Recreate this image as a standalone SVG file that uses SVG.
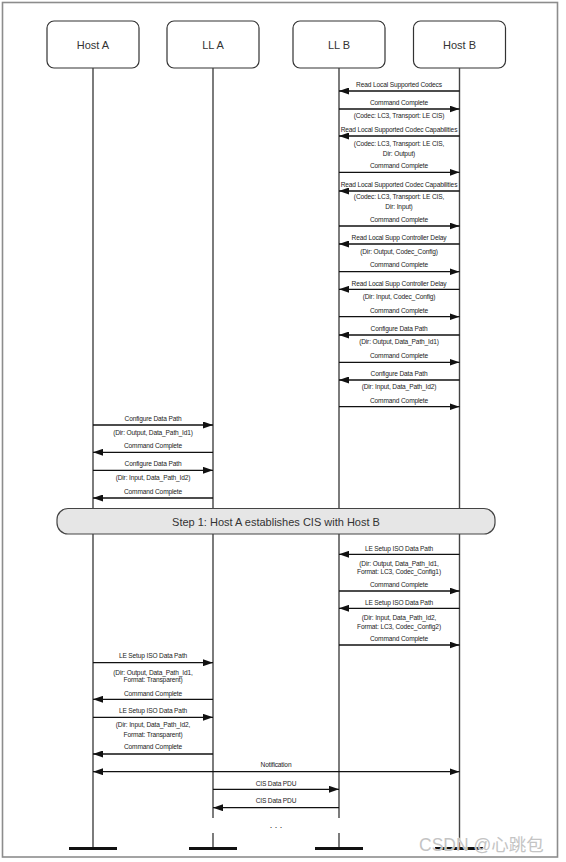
<svg xmlns="http://www.w3.org/2000/svg" width="566" height="862" viewBox="0 0 566 862">
<style>
.bg{fill:#ffffff}
.frame{fill:none;stroke:#8c8c8c;stroke-width:1.6}
.box{fill:#ffffff;stroke:#333333;stroke-width:1.2}
.nl{font-family:"Liberation Sans",Arial,sans-serif;font-size:11px;fill:#333333;text-anchor:middle}
.life{stroke:#444444;stroke-width:1.4;fill:none}
.bar{stroke:#111111;stroke-width:3;fill:none}
.msg{stroke:#111111;stroke-width:1.3;fill:none;marker-end:url(#ah)}
.dbl{stroke:#111111;stroke-width:1.3;fill:none;marker-end:url(#ah);marker-start:url(#ah)}
.t{font-family:"Liberation Sans",Arial,sans-serif;font-size:6.6px;letter-spacing:-0.15px;fill:#222222;text-anchor:middle}
.dots{font-family:"Liberation Sans",Arial,sans-serif;font-size:9px;fill:#222222;text-anchor:middle}
.step{fill:#e6e6e6;stroke:#444444;stroke-width:1.2}
.st{font-family:"Liberation Sans",Arial,sans-serif;font-size:11px;fill:#333333;text-anchor:middle}
.wm{font-family:"Liberation Sans","Noto Sans CJK SC",sans-serif;font-size:17.5px;fill:#c4c4c4;stroke:#ffffff;stroke-width:0.6;paint-order:stroke}
</style>
<defs>
<marker id="ah" markerUnits="userSpaceOnUse" markerWidth="10" markerHeight="7" refX="10" refY="3.5" orient="auto-start-reverse">
<path d="M0,0 L10,3.5 L0,7 z" fill="#111111"/>
</marker>
</defs>
<rect class="bg" x="0" y="0" width="566" height="862"/>
<rect class="frame" x="2.5" y="2.5" width="555" height="854.5"/>

<g id="host-a">
<rect class="box" x="47" y="21" width="92" height="47" rx="7"/>
<text class="nl" x="93" y="49">Host A</text>
<line class="life" x1="93" y1="68" x2="93" y2="848"/>
<line class="bar" x1="69" y1="848.5" x2="117" y2="848.5"/>
</g>
<g id="ll-a">
<rect class="box" x="167" y="21" width="92" height="47" rx="7"/>
<text class="nl" x="213" y="49">LL A</text>
<line class="life" x1="213" y1="68" x2="213" y2="818"/>
<line class="life" x1="213" y1="833" x2="213" y2="848"/>
<line class="bar" x1="189" y1="848.5" x2="237" y2="848.5"/>
</g>
<g id="ll-b">
<rect class="box" x="293" y="21" width="92" height="47" rx="7"/>
<text class="nl" x="339" y="49">LL B</text>
<line class="life" x1="339" y1="68" x2="339" y2="818"/>
<line class="life" x1="339" y1="833" x2="339" y2="848"/>
<line class="bar" x1="315" y1="848.5" x2="363" y2="848.5"/>
</g>
<g id="host-b">
<rect class="box" x="413.5" y="21" width="92" height="47" rx="7"/>
<text class="nl" x="459.5" y="49">Host B</text>
<line class="life" x1="459.5" y1="68" x2="459.5" y2="848"/>
<line class="bar" x1="435" y1="848.5" x2="483" y2="848.5"/>
</g>

<g id="step1">
<rect class="step" x="57" y="508.5" width="438" height="25.5" rx="11"/>
<text class="st" x="276" y="525.5">Step 1: Host A establishes CIS with Host B</text>
</g>

<g id="connectors">
<line class="msg" x1="459.5" y1="91" x2="339" y2="91"/>
<text class="t" x="399" y="86.7">Read Local Supported Codecs</text>
<line class="msg" x1="339" y1="109" x2="459.5" y2="109"/>
<text class="t" x="399" y="105.1">Command Complete</text>
<text class="t" x="399" y="118.4">(Codec: LC3, Transport: LE CIS)</text>

<line class="msg" x1="459.5" y1="136" x2="339" y2="136"/>
<text class="t" x="399" y="132.4">Read Local Supported Codec Capabilities</text>
<text class="t" x="399" y="145.7">(Codec: LC3, Transport: LE CIS,</text>
<text class="t" x="399" y="156.4">Dir: Output)</text>
<line class="msg" x1="339" y1="172.3" x2="459.5" y2="172.3"/>
<text class="t" x="399" y="168.4">Command Complete</text>

<line class="msg" x1="459.5" y1="191" x2="339" y2="191"/>
<text class="t" x="399" y="186.7">Read Local Supported Codec Capabilities</text>
<text class="t" x="399" y="199.1">(Codec: LC3, Transport: LE CIS,</text>
<text class="t" x="399" y="209.1">Dir: Input)</text>
<line class="msg" x1="339" y1="226" x2="459.5" y2="226"/>
<text class="t" x="399" y="222.4">Command Complete</text>

<line class="msg" x1="459.5" y1="244" x2="339" y2="244"/>
<text class="t" x="399" y="240.1">Read Local Supp Controller Delay</text>
<text class="t" x="399" y="254.1">(Dir: Output, Codec_Config)</text>
<line class="msg" x1="339" y1="271.7" x2="459.5" y2="271.7"/>
<text class="t" x="399" y="267.4">Command Complete</text>

<line class="msg" x1="459.5" y1="289.3" x2="339" y2="289.3"/>
<text class="t" x="399" y="285.7">Read Local Supp Controller Delay</text>
<text class="t" x="399" y="299.1">(Dir: Input, Codec_Config)</text>
<line class="msg" x1="339" y1="316.7" x2="459.5" y2="316.7"/>
<text class="t" x="399" y="313.1">Command Complete</text>

<line class="msg" x1="459.5" y1="335" x2="339" y2="335"/>
<text class="t" x="399" y="330.7">Configure Data Path</text>
<text class="t" x="399" y="344.1">(Dir: Output, Data_Path_Id1)</text>
<line class="msg" x1="339" y1="362.3" x2="459.5" y2="362.3"/>
<text class="t" x="399" y="358.1">Command Complete</text>

<line class="msg" x1="459.5" y1="380" x2="339" y2="380"/>
<text class="t" x="399" y="376.4">Configure Data Path</text>
<text class="t" x="399" y="389.1">(Dir: Input, Data_Path_Id2)</text>
<line class="msg" x1="339" y1="406.7" x2="459.5" y2="406.7"/>
<text class="t" x="399" y="403.4">Command Complete</text>

<line class="msg" x1="93" y1="425" x2="213" y2="425"/>
<text class="t" x="153" y="420.7">Configure Data Path</text>
<text class="t" x="153" y="434.7">(Dir: Output, Data_Path_Id1)</text>
<line class="msg" x1="213" y1="452.3" x2="93" y2="452.3"/>
<text class="t" x="153" y="448.4">Command Complete</text>
<line class="msg" x1="93" y1="470.3" x2="213" y2="470.3"/>
<text class="t" x="153" y="466.4">Configure Data Path</text>
<text class="t" x="153" y="479.7">(Dir: Input, Data_Path_Id2)</text>
<line class="msg" x1="213" y1="498" x2="93" y2="498"/>
<text class="t" x="153" y="494.1">Command Complete</text>

<line class="msg" x1="459.5" y1="554.3" x2="339" y2="554.3"/>
<text class="t" x="399" y="550.7">LE Setup ISO Data Path</text>
<text class="t" x="399" y="565.7">(Dir: Output, Data_Path_Id1,</text>
<text class="t" x="399" y="574.1">Format: LC3, Codec_Config1)</text>
<line class="msg" x1="339" y1="591" x2="459.5" y2="591"/>
<text class="t" x="399" y="586.7">Command Complete</text>

<line class="msg" x1="459.5" y1="608.3" x2="339" y2="608.3"/>
<text class="t" x="399" y="604.7">LE Setup ISO Data Path</text>
<text class="t" x="399" y="619.7">(Dir: Input, Data_Path_Id2,</text>
<text class="t" x="399" y="628.7">Format: LC3, Codec_Config2)</text>
<line class="msg" x1="339" y1="645" x2="459.5" y2="645"/>
<text class="t" x="399" y="640.7">Command Complete</text>

<line class="msg" x1="93" y1="662.7" x2="213" y2="662.7"/>
<text class="t" x="153" y="658.4">LE Setup ISO Data Path</text>
<text class="t" x="153" y="674.7">(Dir: Output, Data_Path_Id1,</text>
<text class="t" x="153" y="682.4">Format: Transparent)</text>
<line class="msg" x1="213" y1="699.3" x2="93" y2="699.3"/>
<text class="t" x="153" y="695.7">Command Complete</text>

<line class="msg" x1="93" y1="717.3" x2="213" y2="717.3"/>
<text class="t" x="153" y="713.1">LE Setup ISO Data Path</text>
<text class="t" x="153" y="726.7">(Dir: Input, Data_Path_Id2,</text>
<text class="t" x="153" y="736.7">Format: Transparent)</text>
<line class="msg" x1="213" y1="754" x2="93" y2="754"/>
<text class="t" x="153" y="749.1">Command Complete</text>

<line class="dbl" x1="93" y1="771.7" x2="459.5" y2="771.7"/>
<text class="t" x="276" y="767.4">Notification</text>
<line class="msg" x1="213" y1="789.3" x2="339" y2="789.3"/>
<text class="t" x="276" y="785.7">CIS Data PDU</text>
<line class="msg" x1="339" y1="807.7" x2="213" y2="807.7"/>
<text class="t" x="276" y="803.4">CIS Data PDU</text>
<text class="dots" x="276" y="828">. . .</text>
</g>

<text class="wm" x="419" y="851">CSDN @心跳包</text>
</svg>
